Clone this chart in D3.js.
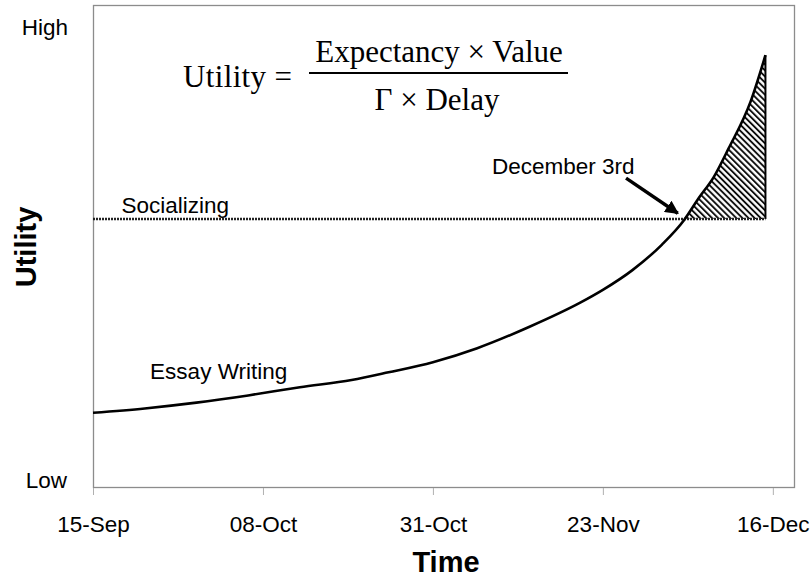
<!DOCTYPE html>
<html>
<head>
<meta charset="utf-8">
<script src="https://cdn.jsdelivr.net/npm/d3@7"></script>
<style>
  html, body { margin: 0; padding: 0; background: #fff; }
  svg { display: block; }
</style>
</head>
<body>
<svg id="chart" width="811" height="586"></svg>
<script>
// ---------- data ----------
const essayDates = ["2008-09-15","2008-09-22","2008-09-29","2008-10-06","2008-10-13","2008-10-20",
  "2008-10-25","2008-10-31","2008-11-06","2008-11-13","2008-11-20","2008-11-23","2008-11-27",
  "2008-12-01","2008-12-04","2008-12-06","2008-12-08","2008-12-10","2008-12-13","2008-12-15"];
const essayUtility = [15.4,16.3,17.5,19.0,20.7,22.2,23.8,25.9,28.8,33.2,38.3,40.9,45.0,
  50.3,55.4,60.0,64.3,70.2,80.0,89.6];
const socialDates = ["2008-09-15","2008-12-15"];
const socialUtility = [55.6, 55.6];
const xTickDates = ["2008-09-15","2008-10-08","2008-10-31","2008-11-23","2008-12-16"];
const xDomain = ["2008-09-15","2008-12-19"];
const yDomain = [0, 100];
const yLabels = ["Low", "High"];
const seriesNames = ["Socializing", "Essay Writing"];
const annotationText = "December 3rd";
const axisTitles = {x: "Time", y: "Utility"};

// ---------- setup ----------
const parse = d3.timeParse("%Y-%m-%d");
const fmt = d3.timeFormat("%d-%b");
const svg = d3.select("#chart");
const pLeft = 93, pRight = 795, pTop = 5, pBottom = 487;
const sans = "Liberation Sans, Arial, sans-serif";

const x = d3.scaleTime().domain(xDomain.map(parse)).range([pLeft, pRight]);
const y = d3.scaleLinear().domain(yDomain).range([pBottom, pTop]);

const essay = essayDates.map((d, i) => ({date: parse(d), v: essayUtility[i]}));
const social = socialDates.map((d, i) => ({date: parse(d), v: socialUtility[i]}));

// hatch pattern
const defs = svg.append("defs");
const pat = defs.append("pattern")
  .attr("id", "hatch").attr("patternUnits", "userSpaceOnUse")
  .attr("width", 4.3).attr("height", 10)
  .attr("patternTransform", "rotate(-45)");
pat.append("rect").attr("width", 4.3).attr("height", 10).attr("fill", "#fff");
pat.append("line").attr("x1", 1).attr("x2", 1).attr("y1", 0).attr("y2", 10)
  .attr("stroke", "#000").attr("stroke-width", 1.8);

defs.append("clipPath").attr("id", "aboveSocial").append("rect")
  .attr("x", pLeft).attr("y", pTop)
  .attr("width", pRight - pLeft).attr("height", y(socialUtility[0]) - pTop);

defs.append("marker").attr("id", "arrowHead")
  .attr("viewBox", "0 0 10 10").attr("refX", 9).attr("refY", 5)
  .attr("markerWidth", 4).attr("markerHeight", 4).attr("orient", "auto")
  .attr("markerUnits", "strokeWidth")
  .append("path").attr("d", "M0,0 L10,5 L0,10 Z").attr("fill", "#000");

// plot frame
svg.append("rect").attr("x", pLeft + 0.5).attr("y", pTop + 0.5)
  .attr("width", pRight - pLeft - 1).attr("height", pBottom - pTop)
  .attr("fill", "none").attr("stroke", "#8c8c8c").attr("stroke-width", 1.3);

// x axis
const xAxis = d3.axisBottom(x).tickValues(xTickDates.map(parse)).tickFormat(fmt)
  .tickSize(7).tickPadding(21);
const gx = svg.append("g").attr("transform", `translate(0,${pBottom + 1})`).call(xAxis);
gx.select(".domain").remove();
gx.selectAll(".tick line").attr("stroke", "#b0b0b0");
gx.selectAll(".tick text").attr("font-family", sans)
  .attr("font-size", 22.5).attr("fill", "#000");

// y labels
svg.append("text").text(yLabels[0]).attr("x", 67).attr("y", y(yDomain[0]) + 1)
  .attr("text-anchor", "end").attr("font-family", sans).attr("font-size", 22.5);
svg.append("text").text(yLabels[1]).attr("x", 68).attr("y", y(yDomain[1]) + 30)
  .attr("text-anchor", "end").attr("font-family", sans).attr("font-size", 22.5);

// axis titles
svg.append("text").text(axisTitles.x).attr("x", (pLeft + pRight) / 2 + 2).attr("y", 572)
  .attr("text-anchor", "middle").attr("font-family", sans)
  .attr("font-weight", "bold").attr("font-size", 29);
svg.append("text").text(axisTitles.y)
  .attr("transform", `translate(36,${(pTop + pBottom) / 2 + 1}) rotate(-90)`)
  .attr("text-anchor", "middle").attr("font-family", sans)
  .attr("font-weight", "bold").attr("font-size", 29);

// hatched area
const curve = d3.curveMonotoneX;
const area = d3.area().x(d => x(d.date)).y0(y(socialUtility[0])).y1(d => y(d.v)).curve(curve);
svg.append("path").datum(essay).attr("d", area)
  .attr("clip-path", "url(#aboveSocial)").attr("fill", "url(#hatch)");
const last = essay[essay.length - 1];
svg.append("line").attr("x1", x(last.date)).attr("x2", x(last.date))
  .attr("y1", y(last.v)).attr("y2", y(socialUtility[0]))
  .attr("stroke", "#000").attr("stroke-width", 2);

// socializing line
const line = d3.line().x(d => x(d.date)).y(d => y(d.v));
svg.append("path").datum(social).attr("d", line)
  .attr("fill", "none").attr("stroke", "#222").attr("stroke-width", 2.6)
  .attr("stroke-dasharray", "2,1");

// essay line
svg.append("path").datum(essay).attr("d", line.curve(curve))
  .attr("fill", "none").attr("stroke", "#000").attr("stroke-width", 2.6)
  .attr("stroke-linejoin", "round");

// series labels
svg.append("text").text(seriesNames[0])
  .attr("x", x(d3.timeDay.offset(parse(xDomain[0]), 4)) - 1).attr("y", y(56.8))
  .attr("font-family", sans).attr("font-size", 22.5);
svg.append("text").text(seriesNames[1])
  .attr("x", x(d3.timeDay.offset(parse(xDomain[0]), 8)) - 2).attr("y", y(22.4))
  .attr("font-family", sans).attr("font-size", 22.5);

// annotation
svg.append("text").text(annotationText)
  .attr("x", x(parse("2008-11-08")) + 0).attr("y", y(64.9))
  .attr("font-family", sans).attr("font-size", 22.5);
svg.append("line")
  .attr("x1", x(parse("2008-11-26")) + 1).attr("y1", y(64.1))
  .attr("x2", x(parse("2008-12-03")) + 1).attr("y2", y(56.8))
  .attr("stroke", "#000").attr("stroke-width", 3.4)
  .attr("marker-end", "url(#arrowHead)");

// formula
const ff = "Liberation Serif, 'Times New Roman', serif";
svg.append("text").text("Utility =").attr("x", 183).attr("y", 87)
  .attr("font-family", ff).attr("font-size", 31).attr("textLength", 109);
svg.append("text").text("Expectancy × Value").attr("x", 439).attr("y", 62)
  .attr("text-anchor", "middle").attr("font-family", ff).attr("font-size", 31);
svg.append("line").attr("x1", 309).attr("x2", 568).attr("y1", 73).attr("y2", 73)
  .attr("stroke", "#000").attr("stroke-width", 2);
svg.append("text").text("Γ × Delay").attr("x", 437).attr("y", 110)
  .attr("text-anchor", "middle").attr("font-family", ff).attr("font-size", 31);
</script>
</body>
</html>
